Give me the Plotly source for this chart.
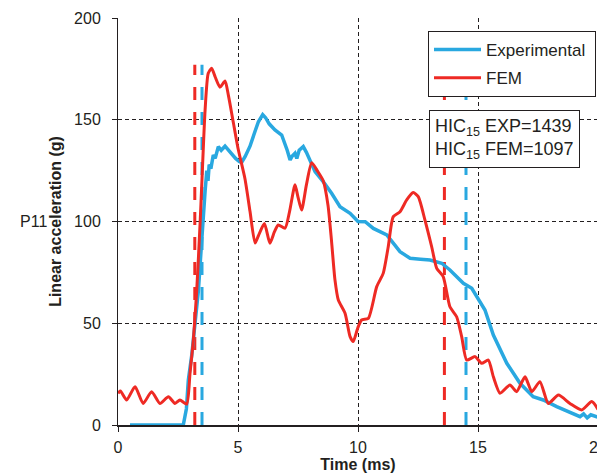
import plotly.graph_objects as go

# Experimental (blue) curve: time (ms), acceleration (g)
exp_t = [0.5, 2.72, 2.85, 2.93, 3.07, 3.21, 3.35, 3.49, 3.56, 3.63, 3.7, 3.75, 3.8, 3.87, 3.97, 4.05,
         4.18, 4.3, 4.46, 4.6, 4.74, 4.9, 5.05, 5.15, 5.3, 5.5, 5.7, 5.85, 6.03, 6.15, 6.3, 6.54,
         6.82, 6.96, 7.05, 7.17, 7.25, 7.375, 7.45, 7.55, 7.72, 7.85, 7.93, 8.21, 8.55, 8.9, 9.25,
         9.67, 10.0, 10.3, 10.64, 11.2, 11.75, 12.17, 12.6, 13.0, 13.49, 13.83, 14.39, 14.74,
         15.29, 15.64, 16.2, 16.75, 17.3, 17.72, 18.28, 18.97, 19.25, 19.4, 19.55, 19.7, 20.0]
exp_v = [0, 0, 8, 22, 34, 50, 66, 91, 105, 115, 125, 120, 128, 126, 132.7, 131,
         136.8, 135, 137, 135, 133.5, 131, 129.5, 129, 132, 137, 144, 149, 152.5, 151, 148, 145,
         142.5, 138.4, 135, 130.2, 132, 133.5, 131, 135, 136.8, 134, 131.8, 124.5, 119.6, 113.9, 107.3,
         104, 100, 99.9, 96.6, 93.4, 85.2, 81.9, 81.5, 81.1, 79.5, 76.2, 69.6, 67.2,
         56.5, 44.2, 30.3, 20.5, 13.9, 12.3, 9.0, 5.7, 4.1, 5.5, 3.5, 5.0, 3.8]

# FEM (red) curve
fem_t = [0, 0.1, 0.36, 0.71, 1.05, 1.4, 1.75, 2.1, 2.375, 2.58, 2.86, 3.0, 3.14, 3.28, 3.42, 3.49,
         3.63, 3.76, 3.9, 4.05, 4.25, 4.46, 4.6, 4.8, 5.0, 5.29, 5.5, 5.71, 5.85, 6.1, 6.33, 6.52,
         6.68, 6.96, 7.15, 7.375, 7.5, 7.65, 7.85, 8.07, 8.3, 8.55, 8.75, 8.9, 9.04, 9.18, 9.46,
         9.67, 9.8, 10.0, 10.15, 10.43, 10.78, 11.05, 11.26, 11.47, 11.75, 12.03, 12.3, 12.51,
         12.79, 13.07, 13.28, 13.55, 13.83, 14.11, 14.32, 14.53, 14.875, 15.15, 15.43, 15.64,
         15.92, 16.33, 16.61, 16.96, 17.24, 17.58, 17.93, 18.35, 18.83, 19.32, 19.74, 20.0]
fem_v = [15.6, 16.7, 12.3, 18.8, 10.6, 16.4, 10.6, 13.9, 10.6, 12.3, 10.3, 25.4, 41.8, 66, 99, 118,
         155, 172.8, 175.3, 171, 166, 169, 162, 149, 136, 121, 105, 89.4, 93, 99, 89.3, 95,
         98.3, 96.7, 105, 118, 112, 105.6, 118, 128.9, 125, 120, 108, 90, 71.3, 61.4, 54.9,
         43.4, 41, 48, 51.6, 52.4, 68, 74.5, 87.6, 102.4, 104.8, 110.6, 114.2, 112.2,
         100.7, 87.6, 77, 72.9, 58.1, 53.2, 43.4, 31.9, 33.6, 30.3, 31.9, 23.7,
         15.6, 19.7, 16.4, 23.7, 16.4, 21.3, 10.6, 14.7, 10.6, 7.4, 11.5, 7.7]

# HIC15 window limits (ms) and marker height (g)
hic_exp_window = [3.5, 14.5]
hic_fem_window = [3.2, 13.6]
hic_marker_top = 177
hic_exp = 1439
hic_fem = 1097

x_ticks = [0, 5, 10, 15, 20]
y_ticks = [0, 50, 100, 150, 200]

BLUE = "#29A8E0"
RED = "#EE2A24"
INK = "#231F20"
FONT = "Liberation Sans, Arial, sans-serif"

# page has an 8px body margin; figure is sized to fit the 605x476 window
W, H = 597, 468
ML, MR, MT, MB = 110, 7, 10, 51
PW = W - ML - MR
PH = H - MT - MB

fig = go.Figure()

for tx in hic_fem_window:
    fig.add_trace(go.Scatter(x=[tx, tx], y=[0, hic_marker_top], mode="lines",
                             line=dict(color=RED, width=3, dash="13px,12px"),
                             showlegend=False, hoverinfo="skip"))
for tx in hic_exp_window:
    fig.add_trace(go.Scatter(x=[tx, tx], y=[0, hic_marker_top], mode="lines",
                             line=dict(color=BLUE, width=3, dash="13px,12px"),
                             showlegend=False, hoverinfo="skip"))

fig.add_trace(go.Scatter(x=exp_t, y=exp_v, mode="lines", name="Experimental\u00a0",
                         line=dict(color=BLUE, width=3.5), legendgroup="a"))
fig.add_trace(go.Scatter(x=fem_t, y=fem_v, mode="lines", name="FEM",
                         line=dict(color=RED, width=3, shape="spline", smoothing=0.6),
                         legendgroup="b"))

fig.update_layout(
    width=W, height=H,
    margin=dict(l=ML, r=MR, t=MT, b=MB, autoexpand=False),
    paper_bgcolor="white", plot_bgcolor="white",
    font=dict(family=FONT, size=16, color=INK),
    legend=dict(x=(420 - ML) / PW, y=1 - (23 - MT) / PH, xanchor="left", yanchor="top",
                bgcolor="white", bordercolor=INK, borderwidth=1,
                font=dict(size=17, color=INK), itemwidth=47,
                tracegroupgap=3),
    annotations=[
        dict(x=(421 - ML) / PW, y=1 - (102 - MT) / PH, xref="paper", yref="paper",
             xanchor="left", yanchor="top",
             align="left", showarrow=False,
             text=f"HIC<sub>15</sub> EXP={hic_exp}<br>HIC<sub>15</sub> FEM={hic_fem}",
             font=dict(size=18, color=INK), bgcolor="white", bordercolor=INK,
             borderwidth=1, borderpad=5),
        dict(x=(25 - ML) / PW, y=0.5, xref="paper", yref="paper", xanchor="center",
             yanchor="middle", showarrow=False, text="P11",
             font=dict(size=16, color=INK)),
    ],
)

fig.update_xaxes(range=[0, 20], tickvals=x_ticks, showgrid=True, gridcolor=INK, gridwidth=1,
                 griddash="4px,3px", zeroline=False, showline=True, linecolor=INK, linewidth=2,
                 ticks="outside", ticklen=5, tickcolor=INK, ticklabelstandoff=2,
                 ticklabeloverflow="allow", automargin=False,
                 title=dict(text="<b>Time (ms)</b>", font=dict(size=16), standoff=4))
fig.update_yaxes(range=[0, 200], tickvals=y_ticks, showgrid=True, gridcolor=INK, gridwidth=1,
                 griddash="4px,3px", zeroline=False, showline=True, linecolor=INK, linewidth=1,
                 ticks="outside", ticklen=5, tickcolor=INK, ticklabelstandoff=8,
                 ticklabeloverflow="allow", automargin=False,
                 title=dict(text="<b>Linear acceleration (g)</b>", font=dict(size=16), standoff=8))

fig.write_html("out.html")
